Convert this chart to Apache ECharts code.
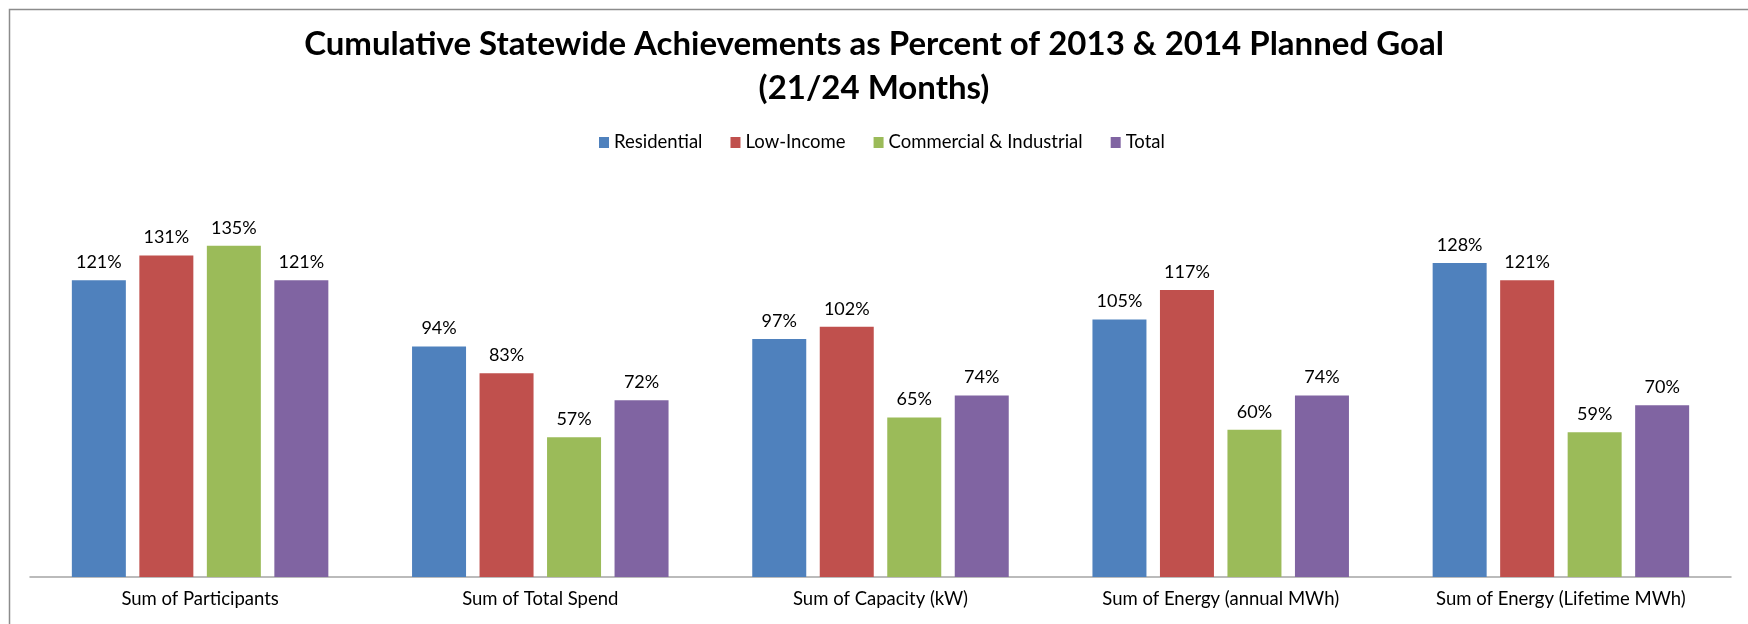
<!DOCTYPE html>
<html>
<head>
<meta charset="utf-8">
<title>Cumulative Statewide Achievements</title>
<script src="https://cdn.jsdelivr.net/npm/echarts@6/dist/echarts.min.js"></script>
<style>
  html, body { margin: 0; padding: 0; background: #fff; }
  #chart { width: 1748px; height: 624px; }
</style>
</head>
<body>
<div id="chart"></div>
<script>
// data (percent of planned goal)
const categories = [
  "Sum of Participants",
  "Sum of Total Spend",
  "Sum of Capacity (kW)",
  "Sum of Energy (annual MWh)",
  "Sum of Energy (Lifetime MWh)"
];
const seriesNames = ["Residential", "Low-Income", "Commercial & Industrial", "Total"];
const residential = [121, 94, 97, 105, 128];
const lowIncome = [131, 83, 102, 117, 121];
const commercial = [135, 57, 65, 60, 59];
const total = [121, 72, 74, 74, 70];
const colors = ["#4F81BD", "#C0504D", "#9BBB59", "#8064A2"];

const chart = echarts.init(document.getElementById("chart"));
const font = "Lato, 'Open Sans', sans-serif";

function makeBar(name, data, color) {
  return {
    name: name,
    type: "bar",
    barWidth: 54,
    barGap: "25%",
    itemStyle: { color: color },
    label: {
      show: true,
      position: "top",
      distance: 9,
      formatter: "{c}%",
      fontFamily: font,
      fontSize: 18,
      color: "#000"
    },
    data: data
  };
}

const option = {
  animation: false,
  color: colors,
  title: {
    text: "Cumulative Statewide Achievements as Percent of 2013 & 2014 Planned Goal\n(21/24 Months)",
    left: "center",
    top: 22,
    padding: [0, 0, 0, 20], // nudge right: plot area is not centred in the page
    textStyle: {
      fontFamily: font,
      fontWeight: "bold",
      fontSize: 33,
      lineHeight: 44,
      color: "#000"
    }
  },
  legend: {
    left: 599,
    top: 133,
    padding: 0,
    itemWidth: 10,
    itemHeight: 11,
    itemGap: 28,
    icon: "rect",
    textStyle: { fontFamily: font, fontSize: 18.5, color: "#000" },
    data: seriesNames
  },
  grid: {
    left: 30,
    right: 17,
    top: 209,
    bottom: 47
  },
  xAxis: {
    type: "category",
    data: categories,
    axisTick: { show: false },
    axisLine: { lineStyle: { color: "#a5a5a5", width: 1.5 } },
    axisLabel: {
      fontFamily: font,
      fontSize: 18.5,
      color: "#000",
      margin: 13
    }
  },
  yAxis: {
    type: "value",
    min: 0,
    max: 150,
    show: false,
    splitLine: { show: false }
  },
  graphic: [
    {
      // chart frame (only the top and left edges are in view)
      type: "rect",
      left: 7,
      top: 7,
      shape: { width: 1800, height: 700 },
      style: { fill: "none", stroke: "#8c8c8c", lineWidth: 1.5 },
      silent: true
    }
  ],
  series: [
    makeBar(seriesNames[0], residential, colors[0]),
    makeBar(seriesNames[1], lowIncome, colors[1]),
    makeBar(seriesNames[2], commercial, colors[2]),
    makeBar(seriesNames[3], total, colors[3])
  ]
};

chart.setOption(option);
</script>
</body>
</html>
